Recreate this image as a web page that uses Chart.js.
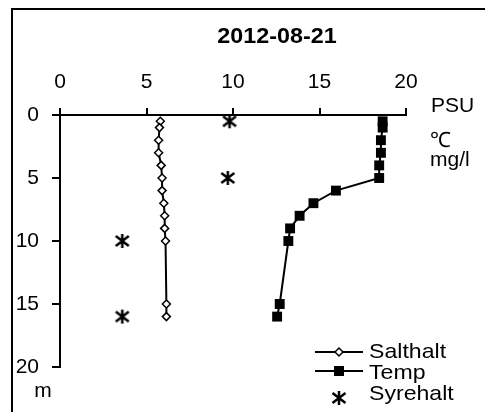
<!DOCTYPE html>
<html lang="sv">
<head>
    <meta charset="UTF-8">
    <title>2012-08-21</title>
    <script src="https://cdn.jsdelivr.net/npm/chart.js"></script>
    <style>
        body { margin: 0; background: #fff; }
        canvas { display: block; }
    </style>
</head>
<body>
    <canvas id="profil" width="485" height="412"></canvas>

    <script>
        // depth (m) and values
        const depth = [0.5, 1, 2, 3, 4, 5, 6, 7, 8, 9, 10, 15, 16];
        const salthalt = [5.8, 5.75, 5.7, 5.7, 5.85, 5.9, 5.9, 6.0, 6.05, 6.05, 6.1, 6.15, 6.15];
        const temp = [18.65, 18.65, 18.55, 18.55, 18.45, 18.45, 15.95, 14.65, 13.85, 13.3, 13.2, 12.7, 12.55];
        const syreDepth = [0.5, 5, 10, 16];
        const syrehalt = [9.8, 9.7, 3.6, 3.6];
        const seriesNames = ["Salthalt", "Temp", "Syrehalt"];
        const units = ["PSU", "℃", "mg/l"];

        const FONT = "'Liberation Sans', Arial, sans-serif";

        // six-armed star like the original marker
        function makeStar() {
            const c = document.createElement("canvas");
            c.width = 16; c.height = 16;
            const g = c.getContext("2d");
            g.strokeStyle = "#000";
            g.lineWidth = 2.5;
            g.beginPath();
            g.moveTo(8, 1); g.lineTo(8, 15);
            g.moveTo(1.5, 3); g.lineTo(14.5, 13);
            g.moveTo(1.5, 13); g.lineTo(14.5, 3);
            g.stroke();
            return c;
        }
        const star = makeStar();

        const toPoints = (xs, ys) => xs.map((v, i) => ({ x: v, y: ys[i] }));

        // text drawn a little wider, like the original
        function wideText(ctx, t, x, y, sx) {
            ctx.save();
            ctx.translate(x, y);
            ctx.scale(sx, 1);
            ctx.fillText(t, 0, 0);
            ctx.restore();
        }

        // frame, title, unit labels and legend
        const extras = {
            id: "extras",
            afterDraw(chart) {
                const ctx = chart.ctx;
                ctx.save();
                ctx.strokeStyle = "#000";
                ctx.lineWidth = 2;
                ctx.beginPath();
                ctx.moveTo(12, 412);
                ctx.lineTo(12, 9);
                ctx.lineTo(485, 9);
                ctx.stroke();

                ctx.fillStyle = "#000";
                ctx.textBaseline = "alphabetic";
                ctx.textAlign = "center";
                ctx.font = "bold 22px " + FONT;
                wideText(ctx, "2012-08-21", 277, 43, 1.06);

                ctx.textAlign = "left";
                ctx.font = "21px " + FONT;
                ctx.fillText(units[0], 431, 112);
                ctx.fillText(units[1], 430, 147);
                ctx.fillText(units[2], 430, 166);
                ctx.textAlign = "center";
                ctx.fillText("m", 43, 397);

                // legend
                const lx0 = 315, lx1 = 363, mx = 339;
                ctx.lineWidth = 2;
                ctx.beginPath();
                ctx.moveTo(lx0, 352); ctx.lineTo(lx1, 352);
                ctx.moveTo(lx0, 371); ctx.lineTo(lx1, 371);
                ctx.stroke();
                ctx.fillStyle = "#fff";
                ctx.lineWidth = 1.5;
                ctx.beginPath();
                ctx.moveTo(mx - 4, 352); ctx.lineTo(mx, 348); ctx.lineTo(mx + 4, 352); ctx.lineTo(mx, 356);
                ctx.closePath();
                ctx.fill(); ctx.stroke();
                ctx.fillStyle = "#000";
                ctx.fillRect(mx - 5, 366, 10, 10);
                ctx.drawImage(star, mx - 8, 390);

                ctx.textAlign = "left";
                ctx.font = "21px " + FONT;
                wideText(ctx, seriesNames[0], 369, 358, 1.1);
                wideText(ctx, seriesNames[1], 369, 379, 1.1);
                wideText(ctx, seriesNames[2], 369, 400, 1.1);
                ctx.restore();
            }
        };

        const tickFont = { family: FONT, size: 21 };

        new Chart(document.getElementById("profil"), {
            type: "scatter",
            data: {
                datasets: [
                    {
                        label: seriesNames[0],
                        data: toPoints(salthalt, depth),
                        showLine: true,
                        borderColor: "#000",
                        borderWidth: 2,
                        pointStyle: "rectRot",
                        pointRadius: 4,
                        pointBackgroundColor: "#fff",
                        pointBorderColor: "#000",
                        pointBorderWidth: 1.5
                    },
                    {
                        label: seriesNames[1],
                        data: toPoints(temp, depth),
                        showLine: true,
                        borderColor: "#000",
                        borderWidth: 2,
                        pointStyle: "rect",
                        pointRadius: 7,
                        pointBackgroundColor: "#000",
                        pointBorderColor: "#000",
                        pointBorderWidth: 0
                    },
                    {
                        label: seriesNames[2],
                        data: toPoints(syrehalt, syreDepth),
                        showLine: false,
                        pointStyle: star,
                        pointRadius: 8
                    }
                ]
            },
            options: {
                responsive: false,
                animation: false,
                layout: { padding: { top: 0, left: 0, right: 79, bottom: 45 } },
                plugins: {
                    legend: { display: false },
                    title: { display: false },
                    tooltip: { enabled: false }
                },
                scales: {
                    x: {
                        type: "linear",
                        position: "top",
                        min: 0,
                        max: 20,
                        afterFit: s => { s.height = 115; },
                        ticks: { stepSize: 5, color: "#000", font: tickFont, padding: 13, maxRotation: 0 },
                        grid: { drawOnChartArea: false, drawTicks: true, tickLength: 7, color: "#000", lineWidth: 2 },
                        border: { color: "#000", width: 2 }
                    },
                    y: {
                        type: "linear",
                        reverse: true,
                        min: 0,
                        max: 20,
                        afterFit: s => { s.width = 60; },
                        ticks: { stepSize: 5, color: "#000", font: tickFont, padding: 13 },
                        grid: { drawOnChartArea: false, drawTicks: true, tickLength: 8, color: "#000", lineWidth: 2 },
                        border: { color: "#000", width: 2 }
                    }
                }
            },
            plugins: [extras]
        });
    </script>
</body>
</html>
